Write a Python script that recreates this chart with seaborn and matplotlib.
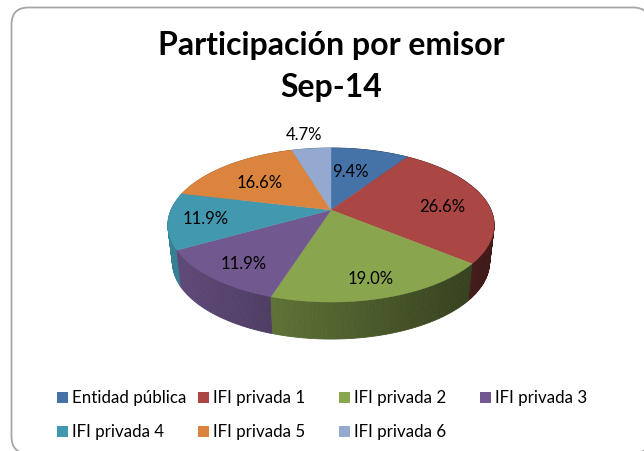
import numpy as np
import matplotlib
matplotlib.use('Agg')
import matplotlib.pyplot as plt
from matplotlib.patches import FancyBboxPatch, Polygon, Rectangle
import seaborn as sns

# --- Data ---
title_lines = ['Participación por emisor', 'Sep-14']
emisores = ['Entidad pública', 'IFI privada 1', 'IFI privada 2', 'IFI privada 3',
            'IFI privada 4', 'IFI privada 5', 'IFI privada 6']
participacion = [9.4, 26.6, 19.0, 11.9, 11.9, 16.6, 4.7]
colores = ['#4572A7', '#AA4643', '#89A54E', '#71588F', '#4198AF', '#DB843D', '#93A9CF']

# --- Pie geometry (pixels), perspective view of a tilted disc ---
CX, CY = 331, 210
A, B, K = 160, 74.1, 0.195
DEPTH = 37
BOTTOM_SCALE = 0.972

# Radial position of each label, plus a small nudge in pixels.
label_r = [0.62, 0.70, 0.80, 0.80, 0.80, 0.55, 1.30]
label_nudge = [(-6, 1), (3, 4), (-3, 2), (5, 2), (4, 1), (-12, -1), (-3, 1)]


def project(theta, r=1.0):
    # theta runs clockwise from the top of the disc
    x = r * np.sin(theta)
    y = r * np.cos(theta)
    d = 1 + K * y
    return CX + A * x / d, CY - B * y / d


def wall_shade(x):
    # Side wall goes darker from left to right.
    return np.interp(x, [CX - 163, CX + 150], [0.85, 0.38])


sns.set_theme(style='white')
plt.rcParams['font.family'] = ['Lato', 'DejaVu Sans']
palette = sns.color_palette(colores)

fig = plt.figure(figsize=(6.44, 4.51), dpi=100)
ax = fig.add_axes([0, 0, 1, 1])
ax.set_xlim(0, 644)
ax.set_ylim(451, 0)
ax.axis('off')

# Chart frame, runs off the right and bottom of the picture
frame = FancyBboxPatch((11.5, 7.5), 638.5, 446, boxstyle='round,pad=0,rounding_size=17',
                       fc='white', ec='#A6A6A6', lw=1.3)
ax.add_patch(frame)

edges = np.cumsum([0] + participacion) / sum(participacion) * 2 * np.pi

# Side walls, back to front
strips = []
for i, color in enumerate(palette):
    steps = max(int((edges[i + 1] - edges[i]) * 60), 2)
    angles = np.linspace(edges[i], edges[i + 1], steps + 1)
    for t0, t1 in zip(angles[:-1], angles[1:]):
        strips.append((np.cos((t0 + t1) / 2), t0, t1, color))
strips.sort(key=lambda s: -s[0])
for _, t0, t1, color in strips:
    x0, y0 = project(t0)
    x1, y1 = project(t1)
    xb0 = CX + (x0 - CX) * BOTTOM_SCALE
    xb1 = CX + (x1 - CX) * BOTTOM_SCALE
    shade = wall_shade((x0 + x1) / 2)
    c = tuple(v * shade for v in color)
    ax.add_patch(Polygon([(x0, y0), (x1, y1), (xb1, y1 + DEPTH), (xb0, y0 + DEPTH)],
                         fc=c, ec=c, lw=0.6))

# Top face
for i, color in enumerate(palette):
    angles = np.linspace(edges[i], edges[i + 1], 80)
    px, py = project(angles)
    pts = [(CX, CY)] + list(zip(px, py))
    ax.add_patch(Polygon(pts, fc=color, ec=color, lw=0.3))

# Value labels
for i, valor in enumerate(participacion):
    mid = (edges[i] + edges[i + 1]) / 2
    lx, ly = project(mid, label_r[i])
    ax.text(lx + label_nudge[i][0], ly + label_nudge[i][1], f'{valor:.1f}%',
            ha='center', va='center', fontsize=12, color='black')

# Title
ax.text(331, 46, title_lines[0], ha='center', va='center', fontsize=23,
        fontweight='bold', color='black')
ax.text(331, 88, title_lines[1], ha='center', va='center', fontsize=23,
        fontweight='bold', color='black')

# Legend, 4 columns by 2 rows
for i, (nombre, color) in enumerate(zip(emisores, palette)):
    col, row = i % 4, i // 4
    x = 57.5 + col * 141
    y = 397 + row * 34
    ax.add_patch(Rectangle((x, y - 5.5), 10.5, 11, fc=color, ec='none'))
    ax.text(x + 14.5, y + 1, nombre, ha='left', va='center', fontsize=12.2, color='black')

fig.savefig('out.png', dpi=100)
